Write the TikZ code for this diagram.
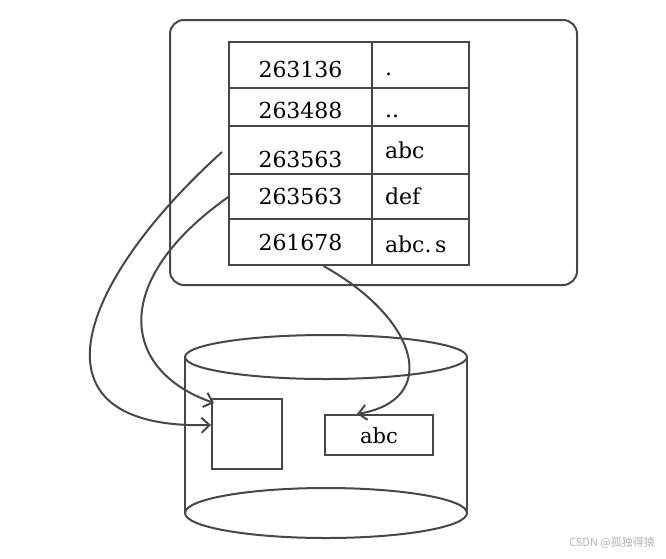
\documentclass[tikz,border=0pt]{standalone}
\usepackage{fontspec}
\setmainfont{DejaVu Serif}
\newfontfamily\cjk{Noto Sans CJK SC}
\usetikzlibrary{arrows.meta}
\begin{document}
\begin{tikzpicture}[x=1pt, y=-1pt, >={Straight Barb[length=8pt,width=15pt]},
    traco/.style={draw=black!72, line width=2pt},
    celula/.style={traco, rectangle, inner sep=0pt, text height=16pt, text depth=0pt,
      font=\fontsize{22}{24}\selectfont},
    nome/.style={celula, minimum width=97pt, text width=71pt, inner xsep=13pt, align=left}]
\useasboundingbox (0,0) rectangle (666,558);
% Diretorio
\node[traco, rounded corners=14pt, minimum width=407pt, minimum height=265pt] (dir) at (373.5,152.5) {};
% Tabela: inode / nome
\node[celula, minimum width=143pt, minimum height=46pt] (i1) at (300.5,65) {\raisebox{-4pt}{263136}};
\node[nome, minimum height=46pt] (n1) at (420.5,65) {\raisebox{-2pt}{.}};
\node[celula, minimum width=143pt, minimum height=38pt] (i2) at (300.5,107) {\raisebox{-3pt}{263488}};
\node[nome, minimum height=38pt] (n2) at (420.5,107) {\raisebox{-2pt}{..}};
\node[celula, minimum width=143pt, minimum height=48pt] (i3) at (300.5,150) {\raisebox{-9pt}{263563}};
\node[nome, minimum height=48pt] (n3) at (420.5,150) {abc};
\node[celula, minimum width=143pt, minimum height=45pt] (i4) at (300.5,196.5) {263563};
\node[nome, minimum height=45pt] (n4) at (420.5,196.5) {def};
\node[celula, minimum width=143pt, minimum height=46pt] (i5) at (300.5,242) {261678};
\node[nome, minimum height=46pt] (n5) at (420.5,242) {\raisebox{-2pt}{abc.\,s}};
% Disco
\coordinate (topo) at (326,357);
\coordinate (base) at (326,513);
\draw[traco] (topo) ellipse [x radius=141, y radius=22];
\draw[traco] (base) ellipse [x radius=141, y radius=25];
\draw[traco] (185,357) -- (185,513) (467,357) -- (467,513);
% Blocos no disco
\node[traco, minimum size=70pt, inner sep=0pt] (bloco) at (247,434) {};
\node[celula, minimum width=108pt, minimum height=40pt, font=\fontsize{21}{24}\selectfont] (arq) at (379,435) {abc};
% Ligacoes
\draw[traco, ->] ([xshift=-6pt,yshift=-2pt]i3.west) .. controls (80,280) and (20,430) .. ([yshift=9pt]bloco.west);
\draw[traco, ->] ([xshift=1pt]i4.west) .. controls (110,280) and (120,370) .. ([xshift=3pt,yshift=31pt]bloco.west);
\draw[traco, ->] ([xshift=23pt]i5.south) .. controls (420,320) and (440,400) .. ([xshift=-22pt]arq.north);
% Marca
\node[text=gray!60, font=\fontsize{11}{12}\selectfont\cjk] (marca) at (612,543) {CSDN @孤独得猿};
\end{tikzpicture}
\end{document}
